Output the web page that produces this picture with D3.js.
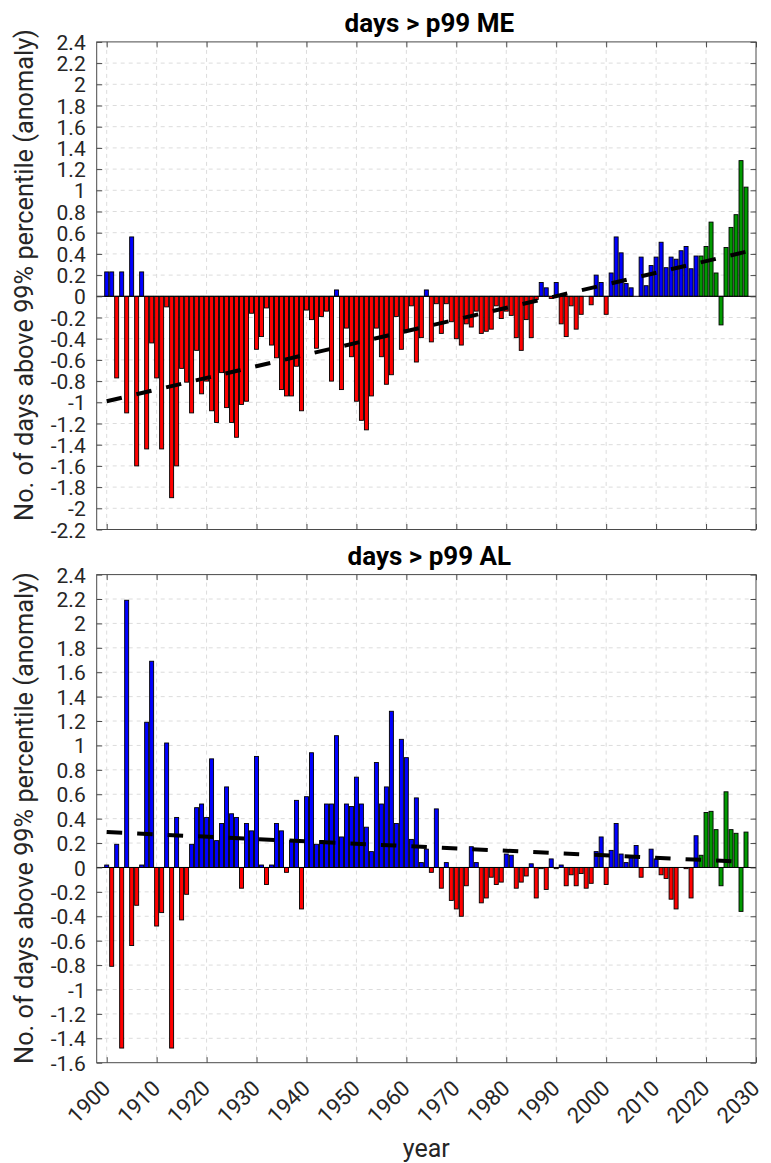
<!DOCTYPE html>
<html>
<head>
<meta charset="utf-8">
<script src="https://cdn.jsdelivr.net/npm/d3@7"></script>
<style>
  html, body { margin: 0; padding: 0; background: #fff; }
  svg { display: block; font-family: Roboto, "Noto Sans", sans-serif; }
</style>
</head>
<body>
<svg id="chart" width="771" height="1163"></svg>
<script>
// ---- data -------------------------------------------------------------
const firstYear = 1900;
const lastYear = 2028;
const recentFrom = 2019;          // bars from this year on are drawn green

// anomaly of days above the 99th percentile, ME series, 1900..2028
const meValues = [
   0.23,  0.23, -0.77,  0.23, -1.10,  0.56, -1.60,  0.23, -1.44, -0.44,
  -0.77, -1.44, -0.10, -1.90, -1.60, -0.68, -0.81, -1.10, -0.51, -0.92,
  -0.80, -1.08, -1.19, -0.72, -1.05, -1.19, -1.33, -1.02, -0.99, -0.16,
  -0.50, -0.38, -0.11, -0.46, -0.58, -0.88, -0.94, -0.94, -0.66, -1.08,
  -0.13, -0.22, -0.49, -0.19, -0.14, -0.80,  0.06, -0.88, -0.30, -0.57,
  -0.99, -1.17, -1.26, -0.94, -0.30, -0.57, -0.83, -0.74, -0.19, -0.50,
  -0.32, -0.09, -0.62, -0.39,  0.06, -0.43, -0.07, -0.35, -0.07, -0.24,
  -0.40, -0.46, -0.26, -0.29, -0.14, -0.35, -0.33, -0.31, -0.09, -0.21,
  -0.14, -0.18, -0.39, -0.51, -0.22, -0.39, -0.03,  0.13,  0.08, -0.02,
   0.13, -0.26, -0.38, -0.09, -0.31, -0.17,  0.00, -0.08,  0.20,  0.13,
  -0.17,  0.22,  0.56,  0.41,  0.12,  0.08,  0.00,  0.37,  0.10,  0.29,
   0.37,  0.51,  0.27,  0.37,  0.35,  0.43,  0.47,  0.26,  0.38,  0.38,
   0.47,  0.70,  0.22, -0.27,  0.46,  0.65,  0.77,  1.28,  1.03
];

// anomaly of days above the 99th percentile, AL series, 1900..2028
const alValues = [
   0.02, -0.81,  0.19, -1.48,  2.19, -0.64, -0.31,  0.02,  1.19,  1.69,
  -0.48, -0.37,  1.02, -1.48,  0.41, -0.43, -0.22,  0.19,  0.49,  0.52,
   0.41,  0.89,  0.22,  0.36,  0.66,  0.44,  0.41, -0.17,  0.36,  0.30,
   0.91,  0.02, -0.14,  0.02,  0.36,  0.30, -0.04,  0.22,  0.55, -0.34,
   0.58,  0.94,  0.19,  0.22,  0.52,  0.52,  1.08,  0.25,  0.52,  0.50,
   0.74,  0.52,  0.33,  0.13,  0.86,  0.52,  0.66,  1.28,  0.36,  1.05,
   0.90,  0.23,  0.57,  0.04,  0.15, -0.04,  0.48, -0.17,  0.04, -0.27,
  -0.34, -0.40, -0.15,  0.17,  0.04, -0.29, -0.25, -0.08, -0.14, -0.12,
   0.11,  0.10, -0.17, -0.12, -0.07,  0.03, -0.25, -0.01, -0.18,  0.07,
  -0.01,  0.02, -0.15, -0.06, -0.15, -0.05, -0.17, -0.13,  0.13,  0.25,
  -0.14,  0.14,  0.36,  0.11,  0.04,  0.08,  0.18, -0.08,  0.00,  0.15,
   0.07, -0.06, -0.09, -0.26, -0.34,  0.00, -0.01, -0.25,  0.26,  0.10,
   0.45,  0.46,  0.31, -0.15,  0.62,  0.31,  0.28, -0.36,  0.29
];

// linear trend end points [year, value]
const meTrend = [[1900, -0.99], [2028, 0.42]];
const alTrend = [[1900, 0.29], [2028, 0.045]];

// axis ticks
const xTicks = [1900, 1910, 1920, 1930, 1940, 1950, 1960, 1970, 1980, 1990, 2000, 2010, 2020, 2030];
const meYTicks = [-2.2, -2, -1.8, -1.6, -1.4, -1.2, -1, -0.8, -0.6, -0.4, -0.2, 0,
                  0.2, 0.4, 0.6, 0.8, 1, 1.2, 1.4, 1.6, 1.8, 2, 2.2, 2.4];
const alYTicks = [-1.6, -1.4, -1.2, -1, -0.8, -0.6, -0.4, -0.2, 0,
                  0.2, 0.4, 0.6, 0.8, 1, 1.2, 1.4, 1.6, 1.8, 2, 2.2, 2.4];

const titles = ["days > p99 ME", "days > p99 AL"];
const yLabel = "No. of days above 99% percentile (anomaly)";
const xLabel = "year";

// ---- layout -----------------------------------------------------------
const svg = d3.select("#chart");
const plotLeft = 96.7, plotRight = 756;
const panels = [
  { title: titles[0], values: meValues, trend: meTrend, ticks: meYTicks,
    domain: [-2.2, 2.4], top: 41.9, bottom: 529.5, labelMid: 275, showXLabels: false },
  { title: titles[1], values: alValues, trend: alTrend, ticks: alYTicks,
    domain: [-1.6, 2.4], top: 574.6, bottom: 1062.7, labelMid: 818, showXLabels: true }
];

const years = d3.range(firstYear, lastYear + 1);
const x = d3.scaleLinear().domain([1898, 2030]).range([plotLeft, plotRight]);
const barW = x(1900.8) - x(1900);

const colRed = "#ff0000", colBlue = "#0000ff", colGreen = "#009a00";
const axisCol = "#4a4a4a", gridCol = "#dcdcdc", textCol = "#262626";
const fmt = v => String(+v.toFixed(1));

panels.forEach((p, pi) => {
  const y = d3.scaleLinear().domain(p.domain).range([p.bottom, p.top]);
  const g = svg.append("g");
  const clipId = "clip" + pi;
  svg.append("clipPath").attr("id", clipId).append("rect")
    .attr("x", plotLeft).attr("y", p.top)
    .attr("width", plotRight - plotLeft).attr("height", p.bottom - p.top);

  // dashed grid
  g.append("g").selectAll("line").data(xTicks.filter(t => t < 2030)).join("line")
    .attr("x1", d => x(d)).attr("x2", d => x(d))
    .attr("y1", p.top).attr("y2", p.bottom)
    .attr("stroke", gridCol).attr("stroke-width", 1).attr("stroke-dasharray", "4,4");
  g.append("g").selectAll("line").data(p.ticks.filter(t => t > p.domain[0] && t < p.domain[1])).join("line")
    .attr("x1", plotLeft).attr("x2", plotRight)
    .attr("y1", d => y(d)).attr("y2", d => y(d))
    .attr("stroke", gridCol).attr("stroke-width", 1).attr("stroke-dasharray", "4,4");

  // bars
  const data = years.map((yr, i) => ({ yr, v: p.values[i] }));
  g.append("g").attr("clip-path", `url(#${clipId})`)
    .selectAll("rect").data(data).join("rect")
    .attr("x", d => x(d.yr) - barW / 2)
    .attr("width", barW)
    .attr("y", d => y(Math.max(0, d.v)))
    .attr("height", d => Math.abs(y(d.v) - y(0)))
    .attr("fill", d => d.yr >= recentFrom ? colGreen : (d.v >= 0 ? colBlue : colRed))
    .attr("stroke", "#000").attr("stroke-width", 0.9);

  // zero baseline
  g.append("line").attr("x1", plotLeft).attr("x2", plotRight)
    .attr("y1", y(0)).attr("y2", y(0)).attr("stroke", "#000").attr("stroke-width", 1);

  // trend line
  g.append("path").datum(p.trend)
    .attr("d", d3.line().x(d => x(d[0])).y(d => y(d[1])))
    .attr("fill", "none").attr("stroke", "#000").attr("stroke-width", 4)
    .attr("stroke-dasharray", "15.5,15");

  // axes box
  g.append("rect").attr("x", plotLeft).attr("y", p.top)
    .attr("width", plotRight - plotLeft).attr("height", p.bottom - p.top)
    .attr("fill", "none").attr("stroke", axisCol).attr("stroke-width", 1);

  // inward ticks on all four sides
  const tl = 5.5;
  const yAxisL = d3.axisLeft(y).tickValues(p.ticks).tickSize(-tl).tickFormat(fmt);
  const yAxisR = d3.axisRight(y).tickValues(p.ticks).tickSize(-tl).tickFormat("");
  const xAxisB = d3.axisBottom(x).tickValues(xTicks).tickSize(-tl).tickFormat("");
  const xAxisT = d3.axisTop(x).tickValues(xTicks).tickSize(-tl).tickFormat("");

  const gl = g.append("g").attr("transform", `translate(${plotLeft},0)`).call(yAxisL);
  g.append("g").attr("transform", `translate(${plotRight},0)`).call(yAxisR);
  g.append("g").attr("transform", `translate(0,${p.bottom})`).call(xAxisB);
  g.append("g").attr("transform", `translate(0,${p.top})`).call(xAxisT);
  g.selectAll(".domain").remove();
  g.selectAll(".tick line").attr("stroke", axisCol);
  gl.selectAll(".tick text").attr("font-size", 21).attr("fill", textCol)
    .attr("font-family", "Roboto, sans-serif")
    .attr("x", -11).attr("dy", "0.36em");

  // panel title
  svg.append("text").attr("x", (plotLeft + plotRight) / 2 + 3).attr("y", p.top - 10)
    .attr("text-anchor", "middle").attr("font-weight", "bold").attr("font-size", 26)
    .attr("fill", "#000").text(p.title);

  // y label
  svg.append("text")
    .attr("transform", `translate(33,${p.labelMid}) rotate(-90)`)
    .attr("text-anchor", "middle").attr("font-size", 25.3).attr("fill", textCol)
    .text(yLabel);

  if (p.showXLabels) {
    svg.append("g").selectAll("text").data(xTicks).join("text")
      .attr("transform", d => `translate(${x(d) + 5},${p.bottom + 27}) rotate(-45)`)
      .attr("text-anchor", "end").attr("font-size", 22).attr("fill", textCol)
      .text(d => d);
    svg.append("text").attr("x", (plotLeft + plotRight) / 2).attr("y", 1157)
      .attr("text-anchor", "middle").attr("font-size", 25).attr("fill", textCol)
      .text(xLabel);
  }
});
</script>
</body>
</html>
